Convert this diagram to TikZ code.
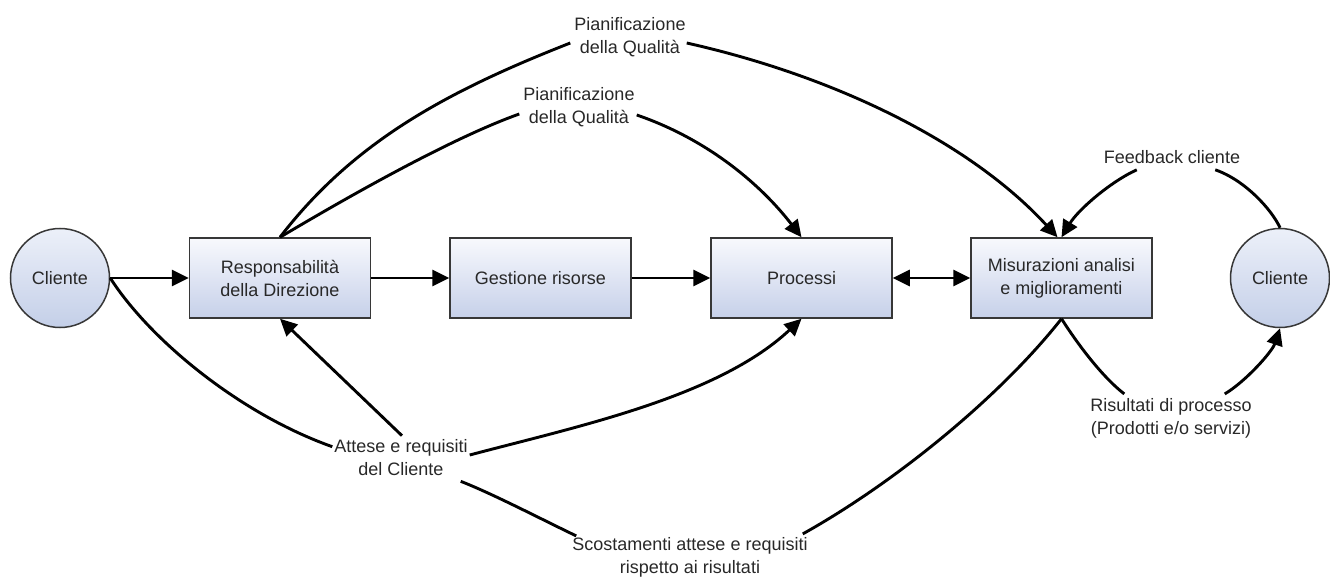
\documentclass[tikz,border=0pt]{standalone}
\usepackage{fontspec}
\setmainfont{Liberation Sans}
\usetikzlibrary{arrows.meta,calc}
\definecolor{bordc}{RGB}{55,55,55}
\definecolor{boxtop}{RGB}{248,249,253}
\definecolor{boxbot}{RGB}{198,208,233}
\definecolor{clitop}{RGB}{236,240,249}
\definecolor{clibot}{RGB}{196,207,232}
\definecolor{txtc}{RGB}{40,40,40}
\begin{document}
\begin{tikzpicture}[x=1pt,y=1pt,
  txt/.style={font=\fontsize{18}{23}\selectfont, text=txtc},
  box/.style={txt, draw=bordc, line width=1.5pt, top color=boxtop, bottom color=boxbot,
    minimum width=181pt, minimum height=80pt, inner sep=0pt, align=center},
  cli/.style={txt, circle, draw=bordc, line width=1.5pt, top color=clitop, bottom color=clibot,
    minimum size=99pt, inner sep=0pt},
  lbl/.style={txt, align=center, inner sep=0pt},
  conn/.style={line width=2.9pt, black},
  arr/.style={conn, -{Triangle[length=17pt,width=16pt]}},
  darr/.style={conn, {Triangle[length=17pt,width=16pt]}-{Triangle[length=17pt,width=16pt]}}]

\useasboundingbox (0,0) rectangle (1330,-577);

% main nodes
\node[cli] (c1) at (60,-278) {Cliente};
\node[box] (resp) at (280,-278) {Responsabilità\\della Direzione};
\node[box] (gest) at (540.5,-278) {Gestione risorse};
\node[box] (proc) at (801.5,-278) {Processi};
\node[box] (mis) at (1061.5,-278) {Misurazioni analisi\\e miglioramenti};
\node[cli] (c2) at (1280,-278) {Cliente};

% labels
\node[lbl] (lq1) at (630,-37) {Pianificazione\\della Qualità};
\node[lbl] (lq2) at (579,-107) {Pianificazione\\della Qualità};
\node[lbl] (latt) at (401,-458) {Attese e requisiti\\del Cliente};
\node[lbl] (lsco) at (690,-557) {Scostamenti attese e requisiti\\rispetto ai risultati};
\node[lbl] (lfb) at (1172,-157) {Feedback cliente};
\node[lbl] (lris) at (1171,-418) {Risultati di processo\\(Prodotti e/o servizi)};

% connector end points at labels
\coordinate (q1l) at ($(lq1.west)+(-4,-6)$);
\coordinate (q1r) at ($(lq1.east)+(1,-6)$);
\coordinate (q2l) at ($(lq2.west)+(-4,-7)$);
\coordinate (q2r) at ($(lq2.east)+(2,-8)$);
\coordinate (a1) at ($(latt.north west)+(-2,-7)$);
\coordinate (a2) at ($(latt.north)+(1,4)$);
\coordinate (a3) at ($(latt.east)+(2,3)$);
\coordinate (a4) at ($(latt.south east)+(-7,-5)$);
\coordinate (s1) at ($(lsco.north west)+(4,1)$);
\coordinate (s2) at ($(lsco.north east)+(-5,3)$);
\coordinate (f1) at ($(lfb.south west)+(33,-6)$);
\coordinate (f2) at ($(lfb.south east)+(-25,-6)$);
\coordinate (r1) at ($(lris.north west)+(34,4)$);
\coordinate (r2) at ($(lris.north east)+(-27,4)$);

% straight connectors
\draw[arr] (c1.east) -- (resp.west);
\draw[arr] (resp.east) -- (gest.west);
\draw[arr] (gest.east) -- (proc.west);
\draw[darr] (proc.east) -- (mis.west);

% quality planning arcs
\draw[conn] (resp.north) .. controls (354,-141) and (448,-91) .. (q1l);
\draw[arr] (q1r) .. controls (834,-76) and (970,-142) .. ([xshift=-4pt]mis.north);
\draw[conn] (resp.north) .. controls (351,-195) and (452,-138) .. (q2l);
\draw[arr] (q2r) .. controls (704,-138) and (758,-181) .. (proc.north);

% customer expectations
\draw[conn] (c1.east) .. controls (150,-340) and (240,-414) .. (a1);
\draw[arr] (a2) -- (resp.south);
\draw[arr] (a3) .. controls (579,-426) and (718,-397) .. (proc.south);
\draw[conn] (a4) .. controls (493,-494) and (537,-517) .. (s1);
\draw[conn] (s2) .. controls (894,-483) and (999,-398) .. (mis.south);

% results and feedback
\draw[conn] (mis.south) .. controls (1075,-340) and (1100,-375) .. (r1);
\draw[arr] (r2) .. controls (1245,-382) and (1272,-352) .. (c2.south);
\draw[conn] (c2.north) .. controls (1272,-210) and (1245,-180) .. (f2);
\draw[arr] (f1) .. controls (1110,-182) and (1078,-210) .. (mis.north);
\end{tikzpicture}
\end{document}
